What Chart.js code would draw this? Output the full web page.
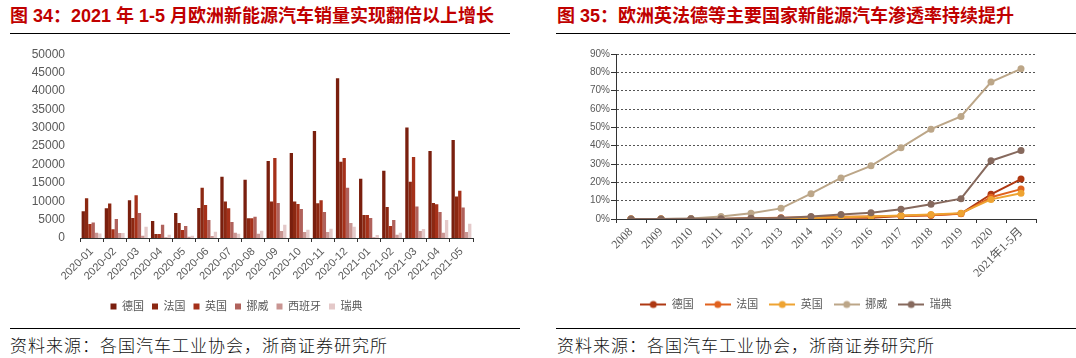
<!DOCTYPE html>
<html><head><meta charset="utf-8">
<script src="https://cdn.jsdelivr.net/npm/chart.js@4.4.0/dist/chart.umd.min.js"></script>
<style>
html,body{margin:0;padding:0;background:#fff;width:1076px;height:358px;overflow:hidden;position:relative;}
.title{position:absolute;top:6px;font-size:18px;font-weight:bold;color:#C00000;font-family:'Liberation Sans','Noto Sans CJK SC',sans-serif;white-space:nowrap;line-height:20px;}
.rule{position:absolute;height:1px;background:#000;}
.src{position:absolute;top:335px;font-size:17px;letter-spacing:1px;color:#111;font-family:'Noto Sans CJK SC',sans-serif;font-weight:300;white-space:nowrap;line-height:20px;}
.box{position:absolute;}
</style></head>
<body>
<div class="title" style="left:10px">图 34：2021 年 1-5 月欧洲新能源汽车销量实现翻倍以上增长</div>
<div class="rule" style="left:10px;width:500px;top:33px"></div>
<div class="title" style="left:557px">图 35：欧洲英法德等主要国家新能源汽车渗透率持续提升</div>
<div class="rule" style="left:556px;width:520px;top:33px"></div>
<div class="box" style="left:0;top:40px;width:530px;height:282px"><canvas id="c1"></canvas></div>
<div class="box" style="left:556px;top:40px;width:520px;height:280px"><canvas id="c2"></canvas></div>
<div class="rule" style="left:10px;width:510px;top:328px"></div>
<div class="rule" style="left:556px;width:520px;top:328px"></div>
<div class="src" style="left:10px">资料来源：各国汽车工业协会，浙商证券研究所</div>
<div class="src" style="left:557px">资料来源：各国汽车工业协会，浙商证券研究所</div>
<script>
// ---- Chart 34 data: monthly NEV sales ----
const months = ['2020-01','2020-02','2020-03','2020-04','2020-05','2020-06','2020-07','2020-08','2020-09','2020-10','2020-11','2020-12','2021-01','2021-02','2021-03','2021-04','2021-05'];
const salesDE = [7250, 8060, 10240, 4620, 6800, 8150, 16670, 15850, 20920, 23100, 29080, 43480, 16120, 18300, 30070, 23640, 26630];
const salesFR = [10800, 9400, 5430, 1090, 4080, 13680, 9960, 5340, 9960, 9960, 9420, 20740, 6250, 8420, 15310, 9510, 11320];
const salesUK = [3800, 2350, 11600, 1090, 2170, 8970, 8060, 5340, 21740, 9240, 10240, 21740, 6250, 3260, 22010, 9150, 12860];
const salesNO = [4200, 5150, 6800, 3620, 3260, 4890, 4350, 5800, 9510, 7880, 7070, 13680, 5430, 4890, 8600, 7070, 8330];
const salesES = [1450, 1370, 630, 200, 360, 540, 1450, 1180, 1900, 1630, 1630, 4080, 180, 900, 1900, 1450, 1630];
const salesSE = [1200, 1370, 3080, 900, 630, 1720, 1180, 1990, 3620, 2260, 2540, 3080, 815, 1450, 2450, 4890, 3900];
const salesNames = ['德国','法国','英国','挪威','西班牙','瑞典'];
const salesTicks = [0, 50000, 5000]; // min, max, step

// ---- Chart 35 data: NEV penetration (%) ----
const years = ['2008','2009','2010','2011','2012','2013','2014','2015','2016','2017','2018','2019','2020','2021年1-5月'];
const penDE = [0, 0, 0, 0, 0.1, 0.2, 0.4, 0.7, 0.7, 1.6, 2.0, 3.0, 13.5, 21.8];
const penFR = [0, 0, 0, 0, 0.4, 0.7, 0.9, 1.2, 1.4, 1.7, 2.1, 2.8, 11.9, 16.3];
const penUK = [0, 0, 0, 0, 0.1, 0.2, 0.6, 1.0, 1.4, 1.9, 2.5, 3.2, 10.7, 14.1];
const penNO = [0, 0, 0.3, 1.4, 3.1, 5.8, 13.8, 22.4, 29.0, 38.9, 49.0, 55.9, 74.7, 81.9];
const penSE = [0, 0, 0.1, 0.2, 0.4, 0.5, 1.3, 2.4, 3.4, 5.3, 8.0, 11.1, 31.8, 37.3];
const penNames = ['德国','法国','英国','挪威','瑞典'];
const penTicks = [0, 90, 10];

const barColors = ['#7A1F0E','#8C2812','#A5311A','#B0625C','#C99592','#E4C9C9'];
const lineColors = ['#AE3812','#E0621F','#EEA331','#BCA688','#86695D'];

Chart.defaults.font.family = "'Liberation Sans','Noto Sans CJK SC',sans-serif";
Chart.defaults.color = '#595959';

const salesSeries = [salesDE, salesFR, salesUK, salesNO, salesES, salesSE];
new Chart(document.getElementById('c1'), {
  type: 'bar',
  data: {
    labels: months,
    datasets: salesSeries.map((d, i) => ({
      label: salesNames[i], data: d, backgroundColor: barColors[i], borderWidth: 0,
      categoryPercentage: 0.86, barPercentage: 1.0
    }))
  },
  options: {
    responsive: true, maintainAspectRatio: false, animation: false,
    layout: { padding: { top: 13, left: 0, right: 57, bottom: 0 } },
    plugins: {
      legend: { position: 'bottom', labels: { boxWidth: 6, boxHeight: 6, padding: 8, color: '#595959', font: { size: 11 } } },
      tooltip: { enabled: false }
    },
    scales: {
      x: {
        offset: true,
        grid: { display: true, drawOnChartArea: false, drawTicks: true, tickLength: 4, color: '#333', offset: true },
        border: { display: true, color: '#333' },
        ticks: { minRotation: 45, maxRotation: 45, color: '#595959', font: { size: 11 }, padding: 3, autoSkip: false },
        afterFit(s) { s.height = 55; }
      },
      y: {
        min: salesTicks[0], max: salesTicks[1],
        ticks: { stepSize: salesTicks[2], color: '#595959', font: { size: 12 }, padding: 7, callback: v => String(v) },
        grid: { display: false }, border: { display: false },
        afterFit(s) { s.width = 80; }
      }
    }
  }
});

function legendIcon(color) {
  const c = document.createElement('canvas');
  c.width = 26; c.height = 10;
  const g = c.getContext('2d');
  g.strokeStyle = color; g.lineWidth = 2;
  g.beginPath(); g.moveTo(0, 5); g.lineTo(26, 5); g.stroke();
  g.fillStyle = color; g.beginPath(); g.arc(13, 5, 3.5, 0, Math.PI * 2); g.fill();
  return c;
}

const penSeries = [penDE, penFR, penUK, penNO, penSE];
new Chart(document.getElementById('c2'), {
  type: 'line',
  data: {
    labels: years,
    datasets: penSeries.map((d, i) => ({
      label: penNames[i], data: d, borderColor: lineColors[i], backgroundColor: lineColors[i],
      borderWidth: 2, pointRadius: 3.5, pointBorderWidth: 0, pointBackgroundColor: lineColors[i],
      tension: 0, order: 5 - i
    }))
  },
  options: {
    responsive: true, maintainAspectRatio: false, animation: false,
    layout: { padding: { top: 14, left: 0, right: 40, bottom: 0 } },
    plugins: {
      legend: {
        position: 'bottom',
        labels: {
          usePointStyle: true, pointStyleWidth: 26, padding: 11, color: '#595959', font: { size: 11 },
          generateLabels: (chart) => chart.data.datasets.map((ds, i) => ({
            text: ds.label, pointStyle: legendIcon(ds.borderColor), fillStyle: ds.borderColor,
            strokeStyle: ds.borderColor, lineWidth: 0, hidden: false, datasetIndex: i, fontColor: '#595959'
          }))
        }
      },
      tooltip: { enabled: false }
    },
    scales: {
      x: {
        offset: true,
        grid: { display: true, drawOnChartArea: false, drawTicks: true, tickLength: 4, color: '#333', offset: true },
        border: { display: true, color: '#333' },
        ticks: { minRotation: 45, maxRotation: 45, color: '#595959', font: { size: 12, family: "'Liberation Serif','Noto Sans CJK SC',serif" }, padding: 2, autoSkip: false },
        afterFit(s) { s.height = 69; }
      },
      y: {
        min: penTicks[0], max: penTicks[1],
        ticks: { stepSize: penTicks[2], color: '#595959', font: { size: 10 }, padding: 1, callback: v => v + '%' },
        grid: { display: true, color: '#555', tickLength: 5, tickColor: '#333', tickBorderDash: [] },
        border: { display: true, color: '#333', dash: [2, 2] },
        afterFit(s) { s.width = 60; }
      }
    }
  }
});
</script>
</body></html>
